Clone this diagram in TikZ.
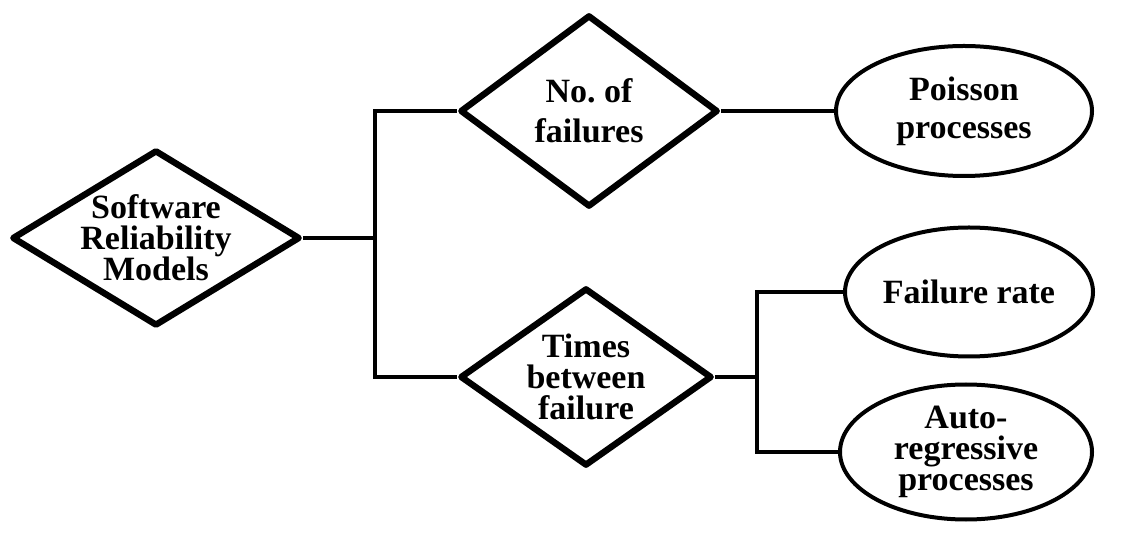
\documentclass[tikz,border=0pt]{standalone}
\usepackage{fontspec}
\setmainfont{Liberation Serif}
\usetikzlibrary{positioning,shapes.geometric}

\begin{document}
\begin{tikzpicture}[x=0.5pt,y=-0.5pt,
  decision/.style={diamond,aspect=1.6,draw,line width=3.2pt,line join=round,inner sep=-4pt,
                   align=center,font=\fontsize{17}{15.5}\selectfont\bfseries},
  outcome/.style={ellipse,draw,line width=2pt,inner sep=0pt,
                  align=center,font=\fontsize{17}{15.5}\selectfont\bfseries},
  link/.style={line width=2pt}
]
\useasboundingbox (0,0) rectangle (1144,533);
\node[decision,minimum width=144pt,minimum height=88pt] (srm) at (156,238) {Software\\Reliability\\Models};
\node[decision,minimum width=129pt,minimum height=96pt,
      font=\fontsize{17}{20}\selectfont\bfseries] (nof) at (589,111) {No.\ of\\failures};
\node[decision,minimum width=126pt,minimum height=89pt] (tbf) at (586,377) {Times\\between\\failure};
\node[outcome,minimum width=128pt,minimum height=65pt,
      font=\fontsize{17}{19}\selectfont\bfseries] (pois) at (964,111) {Poisson\\processes};
\node[outcome,minimum width=124pt,minimum height=64.5pt] (rate) at (969,292) {Failure rate};
\node[outcome,minimum width=126pt,minimum height=67.5pt] (auto) at (966,452) {Auto-\\regressive\\processes};
\coordinate (fork1) at (375,238);
\coordinate (fork2) at (757,377);
\draw[link] (srm.east) -- (fork1);
\draw[link] (nof.west) -| (fork1) |- (tbf.west);
\draw[link] (nof.east) -- (pois.west);
\draw[link] (tbf.east) -- (fork2);
\draw[link] (rate.west) -| (fork2) |- (auto.west);
\end{tikzpicture}
\end{document}
